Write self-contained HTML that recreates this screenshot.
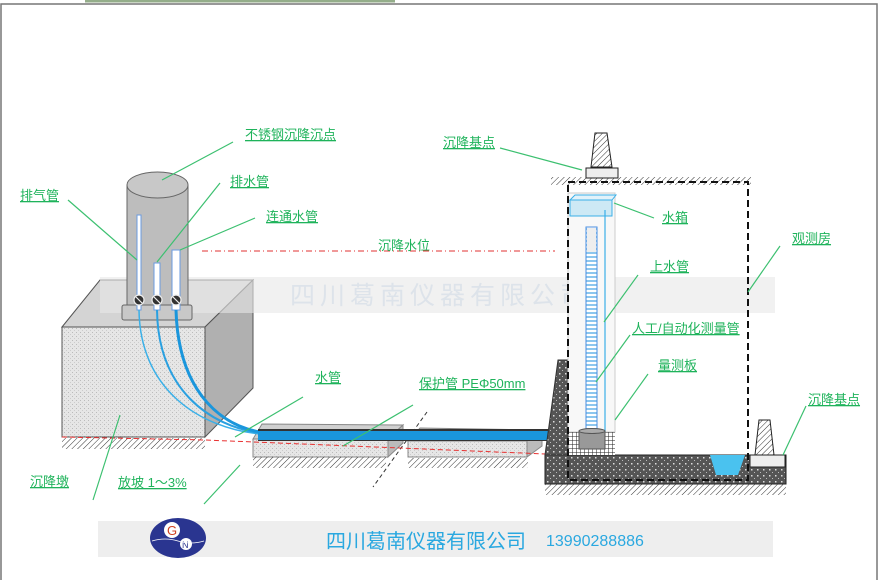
<!DOCTYPE html>
<html><head><meta charset="utf-8"><style>
html,body{margin:0;padding:0;background:#fff;}
svg{display:block;}
.lb{font-family:"Liberation Sans","Noto Sans CJK SC",sans-serif;font-size:13px;fill:#1fb35b;text-decoration:underline;}
.ld{stroke:#3cc070;stroke-width:1.2;fill:none;}
</style></head><body>
<svg width="879" height="580" viewBox="0 0 879 580" xmlns="http://www.w3.org/2000/svg">
<defs>
<pattern id="hatch" width="4" height="4" patternUnits="userSpaceOnUse" patternTransform="rotate(45)"><line x1="0" y1="0" x2="0" y2="4" stroke="#333" stroke-width="1"/></pattern>
<pattern id="dots" width="4" height="4" patternUnits="userSpaceOnUse"><rect width="4" height="4" fill="#e6e6e6"/><rect width="1" height="1" fill="#bbb"/><rect x="2" y="2" width="1" height="1" fill="#ccc"/></pattern>
<pattern id="conc" width="6" height="6" patternUnits="userSpaceOnUse"><rect width="6" height="6" fill="#555"/><rect x="1" y="1" width="1.5" height="1.5" fill="#ddd"/><rect x="4" y="4" width="1" height="1" fill="#bbb"/></pattern>
<pattern id="grid" width="4" height="4" patternUnits="userSpaceOnUse"><rect width="4" height="4" fill="#fff"/><path d="M0 0H4M0 0V4" stroke="#222" stroke-width="1"/></pattern>
<pattern id="stripe" width="4" height="4" patternUnits="userSpaceOnUse"><rect width="4" height="4" fill="#fff"/><rect width="4" height="2" fill="#8cc6ee"/></pattern>
</defs>
<!-- frame -->
<rect x="1" y="4" width="876" height="580" fill="none" stroke="#777" stroke-width="1.5"/>
<rect x="85" y="0" width="310" height="2.5" fill="#3d6a2a" opacity="0.55"/>

<!-- block -->
<polygon points="62,327 100,280 253,280 205,327" fill="#d4d4d4" stroke="#555"/>
<polygon points="205,327 253,280 253,388 205,437" fill="#b0b0b0" stroke="#555"/>
<rect x="62" y="327" width="143" height="110" fill="url(#dots)" stroke="#555"/>
<rect x="62" y="438" width="143" height="11" fill="url(#hatch)"/>

<!-- watermark band -->
<rect x="100" y="277" width="675" height="36" fill="#e8e8e8" opacity="0.6"/>
<text x="290" y="304" font-family="Liberation Sans,'Noto Sans CJK SC',sans-serif" font-size="25" fill="#dde3ea" letter-spacing="5">四川葛南仪器有限公司</text>

<!-- cylinder -->
<rect x="127" y="185" width="61" height="120" fill="#bdbdbd" stroke="#666"/>
<ellipse cx="157.5" cy="185" rx="30.5" ry="13" fill="#c8c8c8" stroke="#666"/>
<rect x="122" y="305" width="70" height="15" rx="2" fill="#c8c8c8" stroke="#666"/>
<rect x="137" y="215" width="4" height="95" fill="#fff" stroke="#6a9be0"/>
<rect x="154" y="263" width="6" height="47" fill="#fff" stroke="#6a9be0"/>
<rect x="172" y="250" width="8" height="60" fill="#fff" stroke="#6a9be0"/>
<g stroke="#eee" stroke-width="1.2">
<circle cx="139" cy="300" r="5" fill="#333"/><line x1="136" y1="297" x2="142" y2="303"/>
<circle cx="157" cy="300" r="5" fill="#333"/><line x1="154" y1="297" x2="160" y2="303"/>
<circle cx="176" cy="300" r="5" fill="#333"/><line x1="173" y1="297" x2="179" y2="303"/>
</g>

<!-- red lines -->
<line x1="202" y1="251" x2="555" y2="251" stroke="#e03030" stroke-dasharray="6,3,1,3"/>

<!-- slabs -->
<polygon points="253,439 262,424 403,425 388,439" fill="#d0d0d0" stroke="#888"/>
<polygon points="388,439 403,425 403,443 388,457" fill="#bbb" stroke="#888"/>
<rect x="253" y="439" width="135" height="18" fill="url(#dots)" stroke="#888"/>
<rect x="253" y="457" width="133" height="11" fill="url(#hatch)"/>
<polygon points="408,441 420,428 542,430 527,441" fill="#d0d0d0" stroke="#888"/>
<polygon points="527,441 542,430 542,446 527,457" fill="#bbb" stroke="#888"/>
<rect x="408" y="441" width="119" height="16" fill="url(#dots)" stroke="#888"/>
<rect x="408" y="458" width="120" height="10" fill="url(#hatch)"/>
<line x1="427" y1="412" x2="373" y2="487" stroke="#333" stroke-dasharray="4,3"/>
<path d="M62 437 L205 440 L570 455" stroke="#e83030" stroke-dasharray="5,3" fill="none"/>

<!-- pipes -->
<path d="M139 310 C140 390 200 428 260 434" stroke="#3ab0e8" stroke-width="1.5" fill="none"/>
<path d="M157 310 C158 390 210 426 260 433" stroke="#2aa0e0" stroke-width="2" fill="none"/>
<path d="M176 310 C178 385 215 424 260 432" stroke="#1a96dc" stroke-width="3" fill="none"/>
<rect x="258" y="429" width="322" height="12" fill="#333"/>
<rect x="258" y="431" width="322" height="9" fill="#1a96dc"/>

<!-- right structure -->
<rect x="551" y="177" width="200" height="8" fill="url(#hatch)"/>
<rect x="545" y="455" width="241" height="29" fill="url(#conc)" stroke="#222"/>
<polygon points="710,455 745,455 738,475 716,475" fill="#4ac2ef"/>
<rect x="545" y="484" width="241" height="11" fill="url(#hatch)"/>
<polygon points="558,360 568,360 568,455 545,455" fill="url(#conc)" stroke="#333"/>
<rect x="568" y="193" width="47" height="239" fill="#f8f8f8" stroke="#ccc"/>
<rect x="568" y="432" width="47" height="23" fill="url(#grid)"/>
<rect x="570" y="200" width="42" height="16" fill="#cde9f5" stroke="#3ab0e8"/>
<polygon points="570,200 575,195 616,195 612,200" fill="#e2f2fa" stroke="#3ab0e8"/>
<rect x="586" y="227" width="11" height="203" fill="url(#stripe)" stroke="#4a8ee0"/>
<rect x="587" y="228" width="9" height="24" fill="#eee"/>
<line x1="605" y1="210" x2="605" y2="432" stroke="#3ab0e8" stroke-width="1.2"/>
<rect x="579" y="431" width="26" height="18" fill="#999" stroke="#555"/>
<ellipse cx="592" cy="431" rx="13" ry="2.5" fill="#aaa" stroke="#555"/>
<path d="M568 182 H748 V480 H568 Z" fill="none" stroke="#111" stroke-width="2" stroke-dasharray="7,4"/>
<!-- benchmarks -->
<polygon points="595,133 607,133 612,167 591,167" fill="url(#hatch)" stroke="#222"/>
<rect x="586" y="168" width="32" height="10" fill="#eee" stroke="#222"/>
<polygon points="759,420 770,420 774,455 755,455" fill="url(#hatch)" stroke="#222"/>
<rect x="750" y="455" width="35" height="12" fill="#eee" stroke="#222"/>

<!-- leaders -->
<g class="ld">
<line x1="233" y1="142" x2="162" y2="180"/>
<line x1="68" y1="200" x2="137" y2="260"/>
<line x1="220" y1="183" x2="157" y2="262"/>
<line x1="255" y1="218" x2="180" y2="250"/>
<line x1="500" y1="148" x2="582" y2="170"/>
<line x1="654" y1="218" x2="614" y2="203"/>
<line x1="780" y1="246" x2="748" y2="292"/>
<line x1="638" y1="275" x2="604" y2="322"/>
<line x1="630" y1="335" x2="596" y2="382"/>
<line x1="648" y1="374" x2="615" y2="420"/>
<line x1="806" y1="406" x2="783" y2="455"/>
<line x1="303" y1="397" x2="235" y2="437"/>
<line x1="413" y1="405" x2="343" y2="446"/>
<line x1="93" y1="500" x2="120" y2="415"/>
<line x1="204" y1="504" x2="240" y2="465"/>
</g>
<!-- labels -->
<text class="lb" x="245" y="139">不锈钢沉降沉点</text>
<text class="lb" x="20" y="200">排气管</text>
<text class="lb" x="230" y="186">排水管</text>
<text class="lb" x="266" y="221">连通水管</text>
<text x="378" y="250" font-family="Liberation Sans,'Noto Sans CJK SC',sans-serif" font-size="13" fill="#1fb35b">沉降水位</text>
<text class="lb" x="443" y="147">沉降基点</text>
<text class="lb" x="662" y="222">水箱</text>
<text class="lb" x="792" y="243">观测房</text>
<text class="lb" x="650" y="271">上水管</text>
<text class="lb" x="632" y="333">人工/自动化测量管</text>
<text class="lb" x="658" y="370">量测板</text>
<text class="lb" x="808" y="404">沉降基点</text>
<text class="lb" x="315" y="382">水管</text>
<text class="lb" x="419" y="388">保护管 PEΦ50mm</text>
<text class="lb" x="30" y="486">沉降墩</text>
<text class="lb" x="118" y="487">放坡 1～3%</text>

<!-- bottom banner -->
<rect x="98" y="521" width="675" height="36" fill="#eeeeee"/>
<ellipse cx="178" cy="538" rx="28" ry="20" fill="#2a3590"/>
<circle cx="172" cy="530" r="8" fill="#fff"/><text x="167" y="535" font-family="Liberation Sans,sans-serif" font-size="13" fill="#d04020">G</text>
<circle cx="186" cy="544" r="6" fill="#fff"/><text x="182" y="548" font-family="Liberation Sans,sans-serif" font-size="9" fill="#2a3590">N</text>
<path d="M152 541 Q165 537 178 541 T204 541" stroke="#fff" stroke-width="0.8" fill="none"/>
<text x="326" y="548" font-family="Liberation Sans,'Noto Sans CJK SC',sans-serif" font-size="20" fill="#2aa8e0">四川葛南仪器有限公司</text>
<text x="546" y="546" font-family="Liberation Sans,sans-serif" font-size="16" fill="#2aa8e0">13990288886</text>
</svg>
</body></html>
